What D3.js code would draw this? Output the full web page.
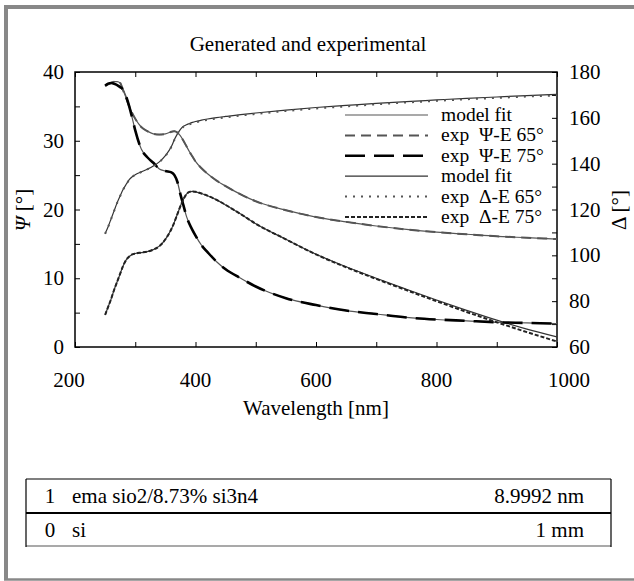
<!DOCTYPE html>
<html><head><meta charset="utf-8">
<script src="https://cdn.jsdelivr.net/npm/d3@7"></script>
<style>body{margin:0;background:#fff}svg{display:block}</style>
</head><body><svg id="c" width="634" height="581"></svg>
<script>
const title = "Generated and experimental";
const wavelengths = [250,255,260,265,270,275,280,285,290,295,300,310,320,330,340,350,360,365,370,375,380,385,390,395,400,410,420,435,450,475,500,550,600,650,700,750,800,850,900,950,1000];
const psi65 = [38.0,38.2,38.4,38.6,38.6,38.4,37.3,36.2,35.0,34.0,33.2,32.0,31.4,31.0,30.9,31.0,31.3,31.4,31.2,30.7,30.0,29.2,28.4,27.7,27.0,26.0,25.2,24.2,23.4,22.2,21.2,19.9,18.9,18.2,17.6,17.1,16.7,16.4,16.1,15.9,15.7];
const psi75 = [38.0,38.3,38.4,38.3,38.1,37.8,37.4,36.4,35.0,33.3,31.5,28.8,27.6,26.8,25.9,25.6,25.4,25.0,24.0,22.2,20.6,19.0,17.9,17.0,16.2,14.8,13.8,12.4,11.3,10.0,8.8,7.1,6.1,5.3,4.8,4.3,4.0,3.8,3.6,3.5,3.4];
const delta65Model = [109.5,112.5,116,119.5,123,126,128.8,131,133,134.3,135.2,136.4,137.6,139.0,140.8,143.5,147.5,150.5,153.0,155.0,156.3,157.0,157.5,158.0,158.4,159.0,159.5,160.1,160.6,161.4,162.1,163.4,164.5,165.4,166.3,167.1,167.8,168.5,169.1,169.7,170.2];
const delta65Exp = [109.4,112.4,115.9,119.4,122.9,125.9,128.7,130.9,132.9,134.2,135.1,136.3,137.5,138.9,140.7,143.4,147.4,150.4,152.9,154.8,156.1,156.7,157.2,157.6,158.0,158.6,159.1,159.7,160.2,161.0,161.7,163.0,164.1,165.0,165.9,166.7,167.4,168.1,168.7,169.3,169.8];
const delta75Model = [74,77.5,81,85,88.5,92,95.5,98,99.5,100.4,100.8,101.2,101.6,102.5,104,107,111.5,114.5,118,121.5,124.5,126.7,127.7,127.9,127.7,127.0,126.0,124.2,122.0,118.0,113.8,107.0,100.5,95.0,90.0,85.2,80.5,76.0,71.7,67.8,64.4];
const delta75Exp = [74,77.5,81,85,88.5,92,95.5,98,99.5,100.4,100.8,101.2,101.6,102.5,104,107,111.5,114.5,118,121.5,124.5,126.7,127.7,127.9,127.7,127.0,126.0,124.2,122.0,118.0,113.8,107.0,100.4,94.8,89.7,84.8,80.0,75.3,70.8,66.5,62.4];
const xTicks = [200,400,600,800,1000];
const psiTicks = [0,10,20,30,40];
const deltaTicks = [60,80,100,120,140,160,180];
const legendLabels = ["model fit","exp  \u03A8-E 65\u00B0","exp  \u03A8-E 75\u00B0","model fit","exp  \u0394-E 65\u00B0","exp  \u0394-E 75\u00B0"];
const layerIndex = ["1","0"];
const layerName = ["ema sio2/8.73% si3n4","si"];
const layerThick = ["8.9992 nm","1 mm"];

const svg = d3.select("#c");
const L=75,R=557,T=72,B=347;
const x = d3.scaleLinear().domain([200,1000]).range([L,R]);
const yP = d3.scaleLinear().domain([0,40]).range([B,T]);
const yD = d3.scaleLinear().domain([60,180]).range([B,T]);
const FS = 21;
function txt(sel, size){return sel.append("text").style("font-family","'Liberation Serif'").style("font-size",(size||FS)+"px").attr("fill","#000");}

// frame
svg.append("line").attr("x1",6).attr("x2",634).attr("y1",7).attr("y2",7).attr("stroke","#888").attr("stroke-width",4);
svg.append("line").attr("x1",6).attr("x2",6).attr("y1",5).attr("y2",580).attr("stroke","#888").attr("stroke-width",4);
svg.append("line").attr("x1",4).attr("x2",634).attr("y1",579.5).attr("y2",579.5).attr("stroke","#888").attr("stroke-width",2.5);

txt(svg,21).attr("x",308).attr("y",51).attr("text-anchor","middle").text(title);

// axes
const gx = svg.append("g").attr("transform",`translate(0,${B})`).call(d3.axisBottom(x).tickValues(d3.range(200,1001,100)).tickSizeInner(-5).tickSizeOuter(0).tickFormat(""));
const gxt = svg.append("g").attr("transform",`translate(0,${T})`).call(d3.axisTop(x).tickValues(d3.range(200,1001,100)).tickSizeInner(-5).tickSizeOuter(0).tickFormat(""));
const gl = svg.append("g").attr("transform",`translate(${L},0)`).call(d3.axisLeft(yP).tickValues(d3.range(0,41,5)).tickSizeInner(-5).tickSizeOuter(0).tickFormat(""));
const gr = svg.append("g").attr("transform",`translate(${R},0)`).call(d3.axisRight(yD).tickValues(d3.range(60,181,10)).tickSizeInner(-5).tickSizeOuter(0).tickFormat(""));
[gx,gxt,gl,gr].forEach(g=>{g.select(".domain").remove();g.selectAll("line").attr("stroke","#000").attr("stroke-width",1);g.selectAll("text").remove();});
svg.append("rect").attr("x",L).attr("y",T).attr("width",R-L).attr("height",B-T).attr("fill","none").attr("stroke","#000").attr("stroke-width",1.5);

xTicks.forEach(d=>txt(svg).attr("text-anchor","middle")
  .attr("x",x(d)+(d===200?-6:d===1000?12:0)).attr("y",387).text(d));
psiTicks.forEach(d=>txt(svg).attr("text-anchor","end")
  .attr("x",L-11).attr("y",yP(d)+7).text(d));
deltaTicks.forEach(d=>txt(svg).attr("text-anchor","start")
  .attr("x",R+12).attr("y",yD(d)+7).text(d));

const yl = txt(svg).attr("transform","translate(30,210) rotate(-90)").attr("text-anchor","middle");
yl.append("tspan").attr("font-style","italic").text("\u03A8");
yl.append("tspan").text(" [\u00B0]");
txt(svg).attr("transform","translate(626,210) rotate(-90)").attr("text-anchor","middle").text("\u0394 [\u00B0]");
txt(svg).attr("x",316).attr("y",415).attr("text-anchor","middle").text("Wavelength [nm]");

// curves
const styles = [
  {stroke:"#555",w:1.2,dash:null},
  {stroke:"#555",w:2,dash:"10,6"},
  {stroke:"#000",w:2.6,dash:"20,9"},
  {stroke:"#333",w:1.2,dash:null},
  {stroke:"#555",w:2,dash:"2,6"},
  {stroke:"#222",w:2,dash:"4,2"}
];
svg.append("clipPath").attr("id","pc").append("rect").attr("x",L).attr("y",T).attr("width",R-L).attr("height",B-T);
const plot = svg.append("g").attr("clip-path","url(#pc)");
const lineP = vals => d3.line().x((d,i)=>x(wavelengths[i])).y(d=>yP(d)).curve(d3.curveMonotoneX)(vals);
const lineD = vals => d3.line().x((d,i)=>x(wavelengths[i])).y(d=>yD(d)).curve(d3.curveMonotoneX)(vals);
function draw(path, s){plot.append("path").attr("d",path).attr("fill","none").attr("stroke",s.stroke).attr("stroke-width",s.w).attr("stroke-dasharray",s.dash);}
draw(lineP(psi65),styles[0]); draw(lineP(psi75),styles[0]);
draw(lineD(delta65Model),styles[3]); draw(lineD(delta75Model),styles[3]);
draw(lineP(psi65),styles[1]);
draw(lineP(psi75),styles[2]);
draw(lineD(delta65Exp),styles[4]);
draw(lineD(delta75Exp),styles[5]);

// legend
const lg = svg.append("g");
legendLabels.forEach((t,i)=>{
  const yy = 115 + i*20.4;
  lg.append("line").attr("x1",345).attr("x2",428).attr("y1",yy).attr("y2",yy).attr("stroke",styles[i].stroke).attr("stroke-width",styles[i].w).attr("stroke-dasharray",styles[i].dash);
  txt(lg,19.5).attr("x",441).attr("y",yy+6).style("white-space","pre").text(t);
});

// layer table
const tb = svg.append("g");
const TL=26,TR=611,TT=479,TM=513,TB=546;
tb.append("line").attr("x1",TL).attr("x2",TR).attr("y1",TT).attr("y2",TT).attr("stroke","#000").attr("stroke-width",1.2);
tb.append("line").attr("x1",TL).attr("x2",TR).attr("y1",TM).attr("y2",TM).attr("stroke","#000").attr("stroke-width",2);
tb.append("line").attr("x1",TL).attr("x2",TR).attr("y1",TB).attr("y2",TB).attr("stroke","#555").attr("stroke-width",1.2);
tb.append("line").attr("x1",TL).attr("x2",TL).attr("y1",TT).attr("y2",TB+1).attr("stroke","#000").attr("stroke-width",1.2);
tb.append("line").attr("x1",TR).attr("x2",TR).attr("y1",TT).attr("y2",TB+1).attr("stroke","#000").attr("stroke-width",1.2);
const rowsY=[503,537];
layerIndex.forEach((d,i)=>{
  txt(tb).attr("x",50).attr("y",rowsY[i]).attr("text-anchor","middle").text(d);
  txt(tb).attr("x",72).attr("y",rowsY[i]).text(layerName[i]);
  txt(tb).attr("x",584).attr("y",rowsY[i]).attr("text-anchor","end").text(layerThick[i]);
});
</script></body></html>
